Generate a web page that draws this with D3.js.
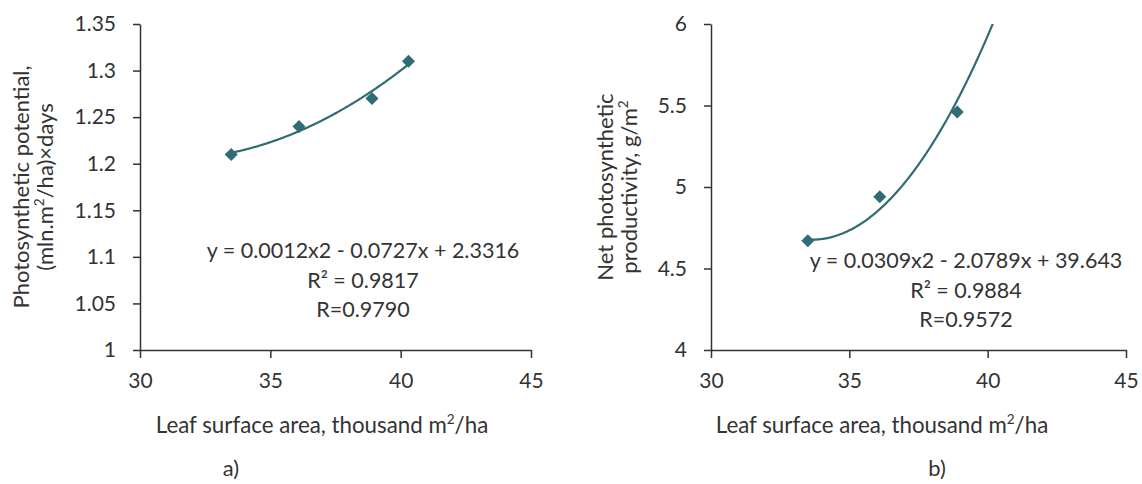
<!DOCTYPE html>
<html>
<head>
<meta charset="utf-8">
<script src="https://cdn.jsdelivr.net/npm/d3@7"></script>
<style>
  body { margin: 0; background: #fff; }
  text { font-family: Lato, "Open Sans", sans-serif; fill: #333; }
  .axis path, .axis line { stroke: #333; stroke-width: 1.5; }
  .axis text { font-size: 21px; fill: #333; }
</style>
</head>
<body>
<div id="chart"></div>
<script>
// data
const leafArea = [33.5, 36.1, 38.9, 40.3]
const potential = [1.21, 1.24, 1.27, 1.31]
const productivity = [4.67, 4.94, 5.46, 6.1]

// quadratic trendline coefficients [a, b, c]
const trendA = [0.0012, -0.0746, 2.3641]
const trendB = [0.0309, -2.0789, 39.643]

const xTicks = [30, 35, 40, 45]
const yTicksA = [1, 1.05, 1.1, 1.15, 1.2, 1.25, 1.3, 1.35]
const yTicksB = [4, 4.5, 5, 5.5, 6]

const eqA = ['y = 0.0012x2 - 0.0727x + 2.3316', 'R² = 0.9817', 'R=0.9790']
const eqB = ['y = 0.0309x2 - 2.0789x + 39.643', 'R² = 0.9884', 'R=0.9572']

const color = '#2f6c74'
const width = 1142, height = 484
const fs = 21.5

const svg = d3.select('#chart').append('svg')
  .attr('width', width)
  .attr('height', height)

function drawPanel(opt) {
  const x = d3.scaleLinear().domain([30, 45]).range([opt.left, opt.right])
  const y = d3.scaleLinear().domain(opt.yDomain).range([350, 24])

  const g = svg.append('g')

  g.append('g')
    .attr('class', 'axis')
    .attr('transform', 'translate(0,350)')
    .call(d3.axisBottom(x).tickValues(xTicks).tickSize(8).tickSizeOuter(0).tickPadding(15))
    .call(s => s.selectAll('text').attr('font-family', null))

  g.append('g')
    .attr('class', 'axis')
    .attr('transform', `translate(${opt.left},0)`)
    .call(d3.axisLeft(y).tickValues(opt.yTicks).tickSize(7).tickSizeOuter(0).tickPadding(17)
      .tickFormat(d => String(+d.toFixed(2))))
    .call(s => s.selectAll('text').attr('font-family', null))

  const clipId = 'clip' + opt.name
  g.append('clipPath').attr('id', clipId)
    .append('rect')
    .attr('x', opt.left).attr('y', 24)
    .attr('width', opt.right - opt.left).attr('height', 326)

  const c = opt.trend
  const xs = d3.range(leafArea[0], leafArea[3] + 0.001, 0.05)
  const line = d3.line()
    .x(d => x(d))
    .y(d => y(c[0] * d * d + c[1] * d + c[2]))
    .curve(d3.curveMonotoneX)

  g.append('path')
    .attr('clip-path', `url(#${clipId})`)
    .attr('d', line(xs))
    .attr('fill', 'none')
    .attr('stroke', color)
    .attr('stroke-width', 2.2)

  const pts = leafArea.map((d, i) => [d, opt.values[i]])
    .filter(p => p[1] <= opt.yDomain[1])

  g.selectAll('.pt')
    .data(pts)
    .enter()
    .append('path')
    .attr('class', 'pt')
    .attr('d', d3.symbol(d3.symbolSquare).size(85))
    .attr('transform', d => `translate(${x(d[0])},${y(d[1])}) rotate(45)`)
    .attr('fill', color)

  // equation
  g.selectAll('.eq')
    .data(opt.eq)
    .enter()
    .append('text')
    .attr('class', 'eq')
    .attr('x', opt.eqX)
    .attr('y', (d, i) => opt.eqY + i * 29.5)
    .attr('text-anchor', 'middle')
    .attr('font-size', fs)
    .text(d => d)

  // x label
  const xl = g.append('text')
    .attr('x', opt.xLabelX)
    .attr('y', 433)
    .attr('text-anchor', 'middle')
    .attr('font-size', 22.3)
  xl.append('tspan').text('Leaf surface area, thousand m')
  xl.append('tspan').attr('font-size', 13.5).attr('dy', -9).text('2')
  xl.append('tspan').attr('dy', 9).text('/ha')

  // y label
  opt.yLabel.forEach((parts, i) => {
    const t = g.append('text')
      .attr('transform', `translate(${opt.yLabelX + i * 24},187) rotate(-90)`)
      .attr('text-anchor', 'middle')
      .attr('font-size', 22)
    parts.forEach(p => {
      if (p.sup) {
        t.append('tspan').attr('font-size', 13.5).attr('dy', -9).text(p.t)
      } else {
        t.append('tspan').attr('dy', p.after ? 9 : 0).text(p.t)
      }
    })
  })

  g.append('text')
    .attr('x', opt.tagX)
    .attr('y', 476)
    .attr('text-anchor', 'middle')
    .attr('font-size', 22)
    .text(opt.tag)
}

drawPanel({
  name: 'a', left: 140, right: 531,
  yDomain: [1, 1.35], yTicks: yTicksA, values: potential, trend: trendA,
  eq: eqA, eqX: 363, eqY: 258,
  xLabelX: 322, yLabelX: 29, tagX: 231, tag: 'a)',
  yLabel: [
    [{ t: 'Photosynthetic potential,' }],
    [{ t: '(mln.m' }, { t: '2', sup: true }, { t: '/ha)×days', after: true }]
  ]
})

drawPanel({
  name: 'b', left: 711, right: 1126,
  yDomain: [4, 6], yTicks: yTicksB, values: productivity, trend: trendB,
  eq: eqB, eqX: 966, eqY: 268,
  xLabelX: 882, yLabelX: 613, tagX: 937, tag: 'b)',
  yLabel: [
    [{ t: 'Net photosynthetic' }],
    [{ t: 'productivity, g/m' }, { t: '2', sup: true }]
  ]
})
</script>
</body>
</html>
